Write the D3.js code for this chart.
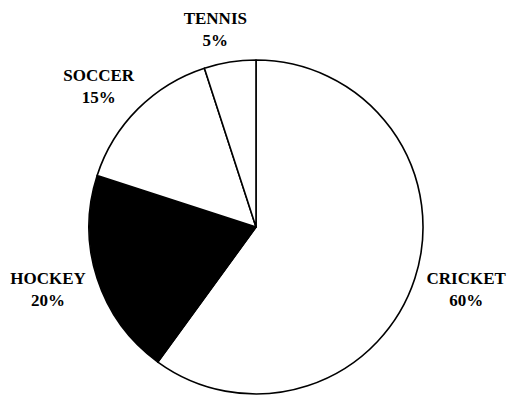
<!DOCTYPE html>
<html><head><meta charset="utf-8">
<script src="https://cdn.jsdelivr.net/npm/d3@7"></script>
<style>html,body{margin:0;padding:0;background:#fff;}</style>
</head><body>
<svg id="c" width="508" height="395"></svg>
<script>
const categories = ["CRICKET", "HOCKEY", "SOCCER", "TENNIS"];
const values = [60, 20, 15, 5];
const fills = ["#ffffff", "#000000", "#ffffff", "#ffffff"];

const W = 508, H = 395;
const cx = 256, cy = 227, R = 167;
const svg = d3.select("#c");
const g = svg.append("g").attr("transform", `translate(${cx},${cy})`);

const pie = d3.pie().sort(null).value(d => d.v);
const data = pie(categories.map((c, i) => ({c, v: values[i], f: fills[i]})));
const arc = d3.arc().innerRadius(0).outerRadius(R);

g.selectAll("path").data(data).enter().append("path")
  .attr("d", arc)
  .attr("fill", d => d.data.f)
  .attr("stroke", "#000")
  .attr("stroke-width", 1.6)
  .attr("stroke-linejoin", "round");

const total = d3.sum(values);
const font = "'Liberation Serif','Times New Roman',serif";
const R0 = 180;
data.forEach(d => {
  const a = (d.startAngle + d.endAngle) / 2;
  const dx = Math.sin(a), dy = -Math.cos(a);
  const t = g.append("text")
    .attr("text-anchor", "middle")
    .attr("font-family", font)
    .attr("font-weight", "bold")
    .attr("font-size", 17)
    .attr("fill", "#000");
  t.append("tspan").attr("x", 0).attr("y", -5).text(d.data.c);
  t.append("tspan").attr("x", 0).attr("y", 17).text(Math.round(d.data.v / total * 100) + "%");
  const bb = t.node().getBBox();
  const bw = bb.width, bh = 40;
  const px = dx * R0 + Math.sign(dx) * Math.sqrt(Math.abs(dx)) * bw / 2;
  const py = dy * R0 + dy * bh / 2;
  t.attr("transform", `translate(${px},${py})`);
});
</script>
</body></html>
